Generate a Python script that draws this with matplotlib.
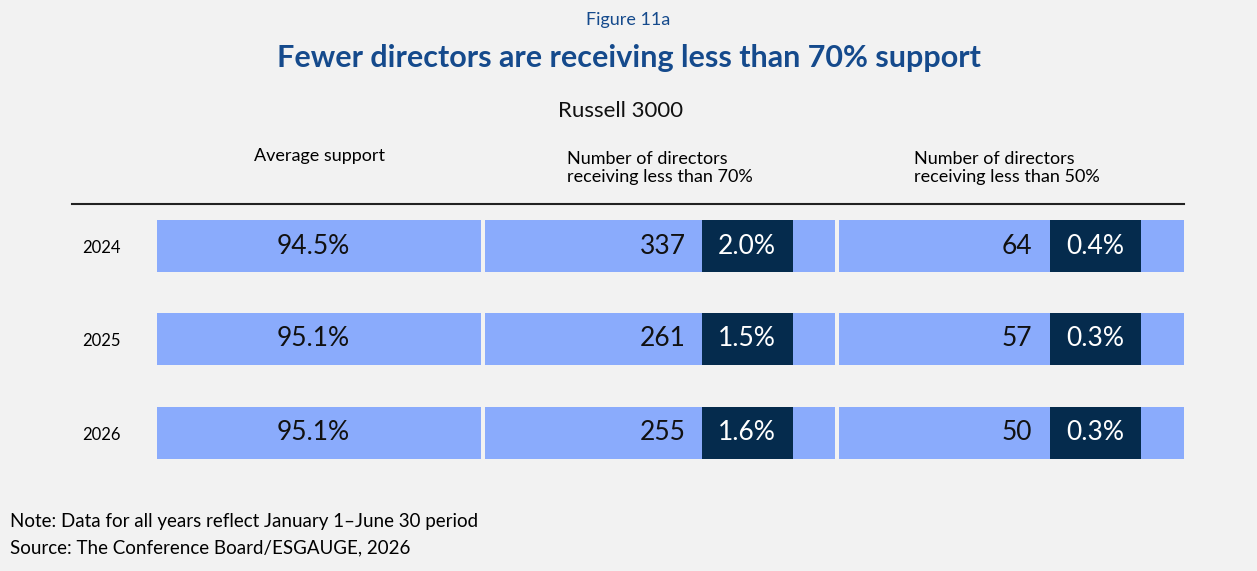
import matplotlib
matplotlib.use('Agg')
import matplotlib.pyplot as plt
from matplotlib.patches import Rectangle

years = ['2024', '2025', '2026']
avg_support = [94.5, 95.1, 95.1]
n_below70 = [337, 261, 255]
pct_below70 = [2.0, 1.5, 1.6]
n_below50 = [64, 57, 50]
pct_below50 = [0.4, 0.3, 0.3]

bg = '#f2f2f2'
light = '#8aabfc'
dark = '#052b4d'
navy = '#154a8c'
plt.rcParams['font.family'] = ['Lato', 'DejaVu Sans']

fig = plt.figure(figsize=(12.57, 5.71), dpi=100, facecolor=bg)
ax = fig.add_axes([0, 0, 1, 1])
ax.set_xlim(0, 1257)
ax.set_ylim(571, 0)
ax.axis('off')

fig.text(0.5, 1 - 20 / 571, 'Figure 11a', ha='center', va='center', color=navy, fontsize=13)
fig.text(0.5, 1 - 58 / 571, 'Fewer directors are receiving less than 70% support', ha='center',
         va='center', color=navy, fontsize=22, fontweight='bold')
fig.text(0.494, 1 - 111 / 571, 'Russell 3000', ha='center', va='center', color='#111111', fontsize=16)

ax.text(319, 156, 'Average support', ha='center', va='center', fontsize=13)
ax.text(567, 168, 'Number of directors\nreceiving less than 70%', ha='left', va='center', fontsize=13, linespacing=1.1)
ax.text(914, 168, 'Number of directors\nreceiving less than 50%', ha='left', va='center', fontsize=13, linespacing=1.1)
ax.plot([72, 1184], [204, 204], color='#222222', lw=1.5)

row_y = [246, 339, 433]
h = 52
for i, yr in enumerate(years):
    y = row_y[i]
    ax.text(82, y + 2, yr, ha='left', va='center', fontsize=12)
    ax.add_patch(Rectangle((157, y - h / 2), 324, h, color=light, lw=0))
    ax.add_patch(Rectangle((485, y - h / 2), 350, h, color=light, lw=0))
    ax.add_patch(Rectangle((839, y - h / 2), 345, h, color=light, lw=0))
    ax.add_patch(Rectangle((702, y - h / 2), 91, h, color=dark, lw=0))
    ax.add_patch(Rectangle((1050, y - h / 2), 91, h, color=dark, lw=0))
    ax.text(313, y, f'{avg_support[i]:.1f}%', ha='center', va='center', fontsize=19, color='#111111')
    ax.text(686, y, f'{n_below70[i]}', ha='right', va='center', fontsize=19, color='#111111')
    ax.text(747, y, f'{pct_below70[i]:.1f}%', ha='center', va='center', fontsize=19, color='white')
    ax.text(1032, y, f'{n_below50[i]}', ha='right', va='center', fontsize=19, color='#111111')
    ax.text(1095, y, f'{pct_below50[i]:.1f}%', ha='center', va='center', fontsize=19, color='white')

ax.text(10, 522, 'Note: Data for all years reflect January 1\u2013June 30 period', ha='left', va='center', fontsize=13.5)
ax.text(10, 548, 'Source: The Conference Board/ESGAUGE, 2026', ha='left', va='center', fontsize=13.5)

fig.savefig('out.png', dpi=100, facecolor=bg)
